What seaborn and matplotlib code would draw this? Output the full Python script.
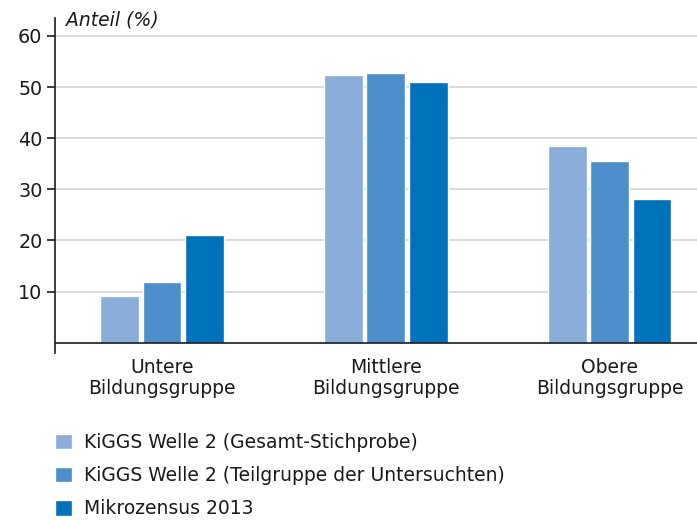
import pandas as pd
import matplotlib
matplotlib.use("Agg")
import matplotlib.pyplot as plt
import seaborn as sns

# ---------------------------------------------------------------------------
# Data
# ---------------------------------------------------------------------------
groups = ["Untere\nBildungsgruppe", "Mittlere\nBildungsgruppe", "Obere\nBildungsgruppe"]
series = [
    "KiGGS Welle 2 (Gesamt-Stichprobe)",
    "KiGGS Welle 2 (Teilgruppe der Untersuchten)",
    "Mikrozensus 2013",
]
gesamt = [9.2, 52.3, 38.5]
teilgruppe = [11.9, 52.7, 35.5]
mikrozensus = [21.0, 51.0, 28.1]
colors = ["#8aadda", "#4d8fcc", "#0071bb"]
y_ticks = [10, 20, 30, 40, 50, 60]

df = pd.DataFrame({
    "Gruppe": groups * 3,
    "Quelle": [s for s in series for _ in groups],
    "Anteil": gesamt + teilgruppe + mikrozensus,
})

# ---------------------------------------------------------------------------
# Aesthetics
# ---------------------------------------------------------------------------
sns.set_style("white")
plt.rcParams["font.family"] = ["DejaVu Sans"]
plt.rcParams["font.size"] = 13

fig = plt.figure(figsize=(6.97, 5.2), dpi=100)
ax = fig.add_axes([55 / 697, 1 - 353 / 520, 1 - 55 / 697, (353 - 18) / 520])

sns.barplot(data=df, x="Gruppe", y="Anteil", hue="Quelle", order=groups,
            hue_order=series, palette=colors, width=0.567, gap=0.08,
            saturation=1, legend=False, ax=ax)

ax.set_xlim(-0.478, 2.39)
ax.set_ylim(-2, 63.5)
ax.set_yticks(y_ticks)
ax.yaxis.grid(True, color="#d4d4d8", linewidth=1.2)
ax.set_axisbelow(True)
ax.axhline(0, color="#1a1a1a", linewidth=1.2, zorder=3)

for side in ["top", "right", "bottom"]:
    ax.spines[side].set_visible(False)
ax.spines["left"].set_color("#1a1a1a")
ax.spines["left"].set_linewidth(1.2)

ax.tick_params(axis="y", which="both", left=True, length=6, width=1.2,
               color="#1a1a1a", labelsize=13.8, labelcolor="#1a1a1a", pad=3)
ax.tick_params(axis="x", bottom=False, labelsize=13.5, labelcolor="#1a1a1a", pad=0)
ax.set_xlabel("")
ax.set_ylabel("")
for lbl in ax.get_xticklabels():
    lbl.set_linespacing(1.15)

fig.text(66 / 697, 1 - 20 / 520, "Anteil (%)", style="italic", fontsize=13.5,
         color="#1a1a1a", ha="left", va="center")

# Legend built from the bar patches (one handle per series)
handles = [ax.patches[i * len(groups)] for i in range(len(series))]
fig.legend(handles, series, loc="upper left", bbox_to_anchor=(38 / 697, 1 - 416 / 520),
           frameon=False, fontsize=13.5, handlelength=0.9, handleheight=0.9,
           handletextpad=0.64, labelspacing=0.76, labelcolor="#1a1a1a")

fig.savefig("out.png", dpi=100)
